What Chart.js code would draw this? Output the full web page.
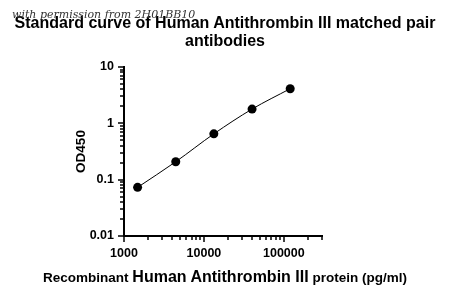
<!DOCTYPE html>
<html>
<head>
<meta charset="utf-8">
<script src="https://cdn.jsdelivr.net/npm/chart.js@4.4.1/dist/chart.umd.min.js"></script>
<style>
    html, body { margin: 0; padding: 0; background: #fff; }
    #wrap { position: relative; width: 450px; height: 296px; overflow: hidden; }
    #chart { position: absolute; left: 0; top: 0; }
    .txt { position: absolute; font-family: "Liberation Sans", Arial, sans-serif; font-weight: bold; color: #000; white-space: nowrap; }
    #title { left: 0; width: 450px; top: 14px; text-align: center; font-size: 16px; line-height: 18px; }
    #stamp { left: 12px; top: 8px; font-family: "DejaVu Serif", serif; font-style: italic; font-size: 11px; color: #333; font-weight: normal; }
    #xtitle { left: 0; width: 450px; top: 268px; text-align: center; font-size: 13.5px; line-height: 18px; }
    #xtitle .big { font-size: 16px; }
</style>
</head>
<body>
<div id="wrap">
    <canvas id="chart" width="450" height="296"></canvas>
    <div class="txt" id="title">Standard curve of Human Antithrombin III matched pair<br>antibodies</div>
    <div class="txt" id="stamp">with permission from 2H01BB10</div>
    <div class="txt" id="xtitle">Recombinant <span class="big">Human Antithrombin III</span> protein (pg/ml)</div>
</div>
<script>
// Datos
const concentraciones = [1480, 4440, 13300, 40000, 120000];
const od450 = [0.073, 0.208, 0.65, 1.79, 4.12];

// Ticks de los ejes (logaritmicos)
const xTicks = [1000, 2000, 3000, 4000, 5000, 6000, 7000, 8000, 9000,
    10000, 20000, 30000, 40000, 50000, 60000, 70000, 80000, 90000,
    100000, 200000, 300000];
const xLabels = [1000, 10000, 100000];
const yTicks = [0.01, 0.02, 0.03, 0.04, 0.05, 0.06, 0.07, 0.08, 0.09,
    0.1, 0.2, 0.3, 0.4, 0.5, 0.6, 0.7, 0.8, 0.9,
    1, 2, 3, 4, 5, 6, 7, 8, 9, 10];
const yLabels = [0.01, 0.1, 1, 10];

const isMajor = (list, v) => list.some(l => Math.abs(l - v) / l < 1e-6);

// Dibuja las marcas de los ejes (mayores y menores)
const tickMarks = {
    id: 'tickMarks',
    afterDraw(chart) {
        const c = chart.ctx;
        const x = chart.scales.x;
        const y = chart.scales.y;
        c.save();
        c.strokeStyle = '#000';
        c.lineWidth = 1.5;
        xTicks.forEach(v => {
            const px = Math.round(x.getPixelForValue(v));
            const len = isMajor(xLabels, v) ? 6 : 4;
            c.beginPath();
            c.moveTo(px, x.top);
            c.lineTo(px, x.top + len);
            c.stroke();
        });
        yTicks.forEach(v => {
            const py = Math.round(y.getPixelForValue(v));
            const len = isMajor(yLabels, v) ? 6 : 4;
            c.beginPath();
            c.moveTo(y.right, py);
            c.lineTo(y.right - len, py);
            c.stroke();
        });
        c.restore();
    }
};

const tickFont = { family: '"Liberation Sans", Arial, sans-serif', weight: 'bold', size: 12.5 };

new Chart(document.getElementById('chart'), {
    type: 'line',
    data: {
        datasets: [{
            data: concentraciones.map((c, i) => ({ x: c, y: od450[i] })),
            borderColor: '#000',
            backgroundColor: '#000',
            borderWidth: 1,
            pointRadius: 4.5,
            pointBackgroundColor: '#000',
            pointBorderWidth: 0,
            cubicInterpolationMode: 'monotone',
            fill: false
        }]
    },
    plugins: [tickMarks],
    options: {
        responsive: false,
        animation: false,
        layout: { padding: { left: 73, right: 128, top: 67, bottom: 0 } },
        plugins: {
            legend: { display: false },
            tooltip: { enabled: false }
        },
        scales: {
            x: {
                type: 'logarithmic',
                min: 1000,
                max: 300000,
                afterBuildTicks: (scale) => { scale.ticks = xTicks.map(v => ({ value: v })); },
                afterFit: (scale) => { scale.height = 60; },
                grid: { display: false, drawTicks: false },
                border: { display: true, color: '#000', width: 2 },
                ticks: {
                    autoSkip: false,
                    maxRotation: 0,
                    padding: 10,
                    color: '#000',
                    font: tickFont,
                    callback: (v) => isMajor(xLabels, v) ? String(v) : ''
                }
            },
            y: {
                type: 'logarithmic',
                min: 0.01,
                max: 10,
                afterBuildTicks: (scale) => { scale.ticks = yTicks.map(v => ({ value: v })); },
                afterFit: (scale) => { scale.width = 51; },
                grid: { display: false, drawTicks: false },
                border: { display: true, color: '#000', width: 2 },
                title: {
                    display: true,
                    text: 'OD450',
                    color: '#000',
                    padding: 0,
                    font: { family: '"Liberation Sans", Arial, sans-serif', weight: 'bold', size: 13.5 }
                },
                ticks: {
                    autoSkip: false,
                    padding: 10,
                    color: '#000',
                    font: tickFont,
                    callback: (v) => isMajor(yLabels, v) ? String(v) : ''
                }
            }
        }
    }
});
</script>
</body>
</html>
